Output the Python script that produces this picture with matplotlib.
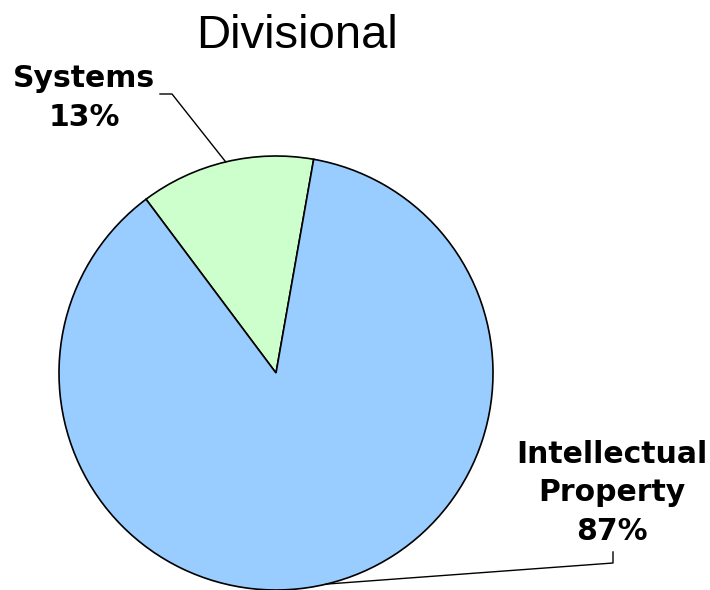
import numpy as np
import matplotlib
matplotlib.use("Agg")
import matplotlib.pyplot as plt

# data
labels = ["Systems", "Intellectual\nProperty"]
shares = [13, 87]
colors = ["#CCFFCC", "#99CCFF"]
title = "Divisional"

W, H = 710, 590
fig = plt.figure(figsize=(W / 100, H / 100), dpi=100)
ax = fig.add_axes([0, 0, 1, 1])

cx, cy, r = 276, H - 373, 217
wedges, _ = ax.pie(shares, colors=colors, startangle=80, counterclock=True,
                   center=(cx, cy), radius=r, frame=True,
                   wedgeprops=dict(edgecolor="black", linewidth=1.2))
ax.set_xlim(0, W)
ax.set_ylim(0, H)
ax.set_aspect("equal")
ax.axis("off")

# label positions (last-line baseline, pixels) and leader elbows
label_pos = [(84, H - 126), (612, H - 540)]
elbows = [[(172, H - 94), (160, H - 94)], [(613, H - 563), (613, H - 552)]]

for w, lab, pct, (lx, ly), elb in zip(wedges, labels, shares, label_pos, elbows):
    mid = np.deg2rad((w.theta1 + w.theta2) / 2)
    px, py = cx + r * np.cos(mid), cy + r * np.sin(mid)
    xs = [px] + [e[0] for e in elb]
    ys = [py] + [e[1] for e in elb]
    ax.plot(xs, ys, color="black", lw=1.0)
    ax.text(lx, ly, f"{lab}\n{pct}%", ha="center", va="baseline",
            multialignment="center", fontsize=21.5, fontweight="bold",
            family="DejaVu Sans", linespacing=1.42)

ax.text(297, H - 48, title, ha="center", va="baseline", fontsize=34,
        family="Liberation Sans")

fig.savefig("out.png", dpi=100)
